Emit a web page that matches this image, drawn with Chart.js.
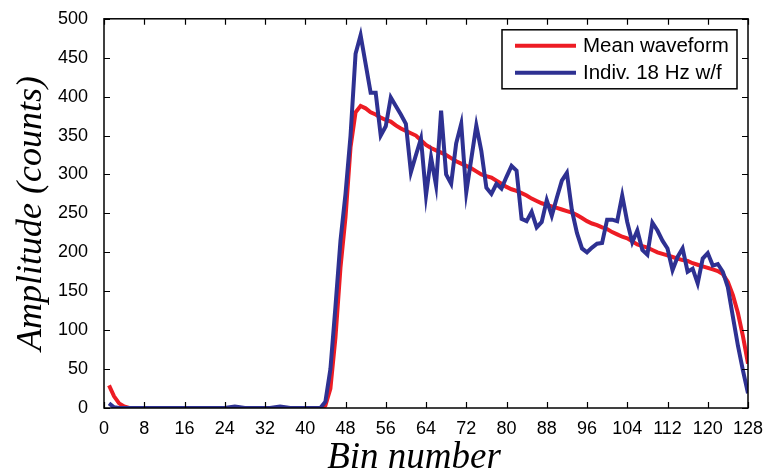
<!DOCTYPE html>
<html>
<head>
<meta charset="utf-8">
<script src="https://cdn.jsdelivr.net/npm/chart.js@4.4.1/dist/chart.umd.min.js"></script>
<style>
  html, body { margin: 0; padding: 0; background: #fff; }
  #wave { display: block; }
</style>
</head>
<body>
<canvas id="wave" width="768" height="473"></canvas>
<script>
// bin index 1..128
const bins = [];
for (let b = 1; b <= 128; b++) bins.push(b);

// averaged return (counts per bin)
const meanWave = [
  29, 15, 6, 2, 0, 0, 0, 0, 0, 0,
  0, 0, 0, 0, 0, 0, 0, 0, 0, 0,
  0, 0, 0, 0, 0, 0, 0, 0, 0, 0,
  0, 0, 0, 0, 0, 0, 0, 0, 0, 0,
  0, 0, 0, 3, 25, 90, 180, 245, 335, 380,
  388, 385, 380, 377, 373, 370, 368, 363, 359, 356,
  353, 350, 344, 338, 334, 331, 328, 325, 321, 317,
  314, 311, 308, 304, 300, 298, 296, 292, 288, 284,
  281, 279, 276, 273, 269, 266, 263, 261, 259, 257,
  255, 253, 251, 248, 244, 240, 237, 235, 232, 230,
  226, 223, 220, 218, 214, 210, 208, 206, 203, 200,
  198, 196, 194, 192, 190, 189, 186, 184, 182, 180,
  178, 176, 172, 162, 145, 122, 92, 57
];

// single 18 Hz waveform
const indivWave = [
  6, 1, 0, 0, 0, 0, 0, 0, 0, 0,
  0, 0, 0, 0, 0, 0, 0, 0, 0, 0,
  0, 0, 0, 0, 1, 2, 1, 0, 0, 0,
  0, 0, 0, 1, 2, 1, 0, 0, 0, 0,
  0, 0, 0, 8, 50, 130, 215, 275, 350, 455,
  479, 442, 405, 405, 350, 362, 399, 388, 377, 365,
  303, 325, 346, 273, 322, 286, 382, 300, 288, 340,
  365, 277, 320, 363, 330, 283, 275, 288, 282, 297,
  311, 305, 243, 240, 252, 232, 239, 267, 247, 270,
  292, 302, 254, 225, 205, 200, 206, 211, 212, 242,
  242, 240, 273, 239, 213, 228, 203, 197, 238, 228,
  215, 205, 177, 194, 205, 175, 179, 160, 192, 199,
  183, 185, 175, 155, 117, 80, 48, 19
];

const xTicks = { min: 0, max: 128, step: 8 };
const yTicks = { min: 0, max: 500, step: 50 };
const xLabel = 'Bin number';

const RED = '#ed1c24';
const BLUE = '#2e3192';

const toPoints = vals => bins.map((b, i) => ({ x: b, y: vals[i] }));

// box round the axes with inward ticks on all four sides
const axesBox = {
  id: 'axesBox',
  afterDatasetsDraw(chart) {
    const { ctx, chartArea: a, scales: { x, y } } = chart;
    const len = 6;
    ctx.save();
    ctx.strokeStyle = '#000';
    ctx.lineWidth = 1.5;
    ctx.strokeRect(a.left, a.top, a.right - a.left, a.bottom - a.top);
    ctx.beginPath();
    x.ticks.forEach(t => {
      const px = Math.round(x.getPixelForValue(t.value)) + 0.5;
      ctx.moveTo(px, a.bottom); ctx.lineTo(px, a.bottom - len);
      ctx.moveTo(px, a.top); ctx.lineTo(px, a.top + len);
    });
    y.ticks.forEach(t => {
      const py = Math.round(y.getPixelForValue(t.value)) + 0.5;
      ctx.moveTo(a.left, py); ctx.lineTo(a.left + len, py);
      ctx.moveTo(a.right, py); ctx.lineTo(a.right - len, py);
    });
    ctx.lineWidth = 1.2;
    ctx.stroke();
    ctx.restore();
  }
};

// x axis caption, sits a little left of centre
const xCaption = {
  id: 'xCaption',
  afterDraw(chart) {
    const { ctx, chartArea: a } = chart;
    ctx.save();
    ctx.font = 'italic 37px "Liberation Serif", "Times New Roman", serif';
    ctx.fillStyle = '#000';
    ctx.textAlign = 'center';
    ctx.textBaseline = 'alphabetic';
    ctx.fillText(xLabel, (a.left + a.right) / 2 - 12, 468);
    ctx.restore();
  }
};

// boxed legend in the upper right corner
const boxLegend = {
  id: 'boxLegend',
  afterDraw(chart) {
    const { ctx, chartArea: a } = chart;
    const w = 235, h = 59;
    const left = a.right - 11 - w, top = a.top + 11;
    ctx.save();
    ctx.fillStyle = '#fff';
    ctx.fillRect(left, top, w, h);
    ctx.strokeStyle = '#000';
    ctx.lineWidth = 1.5;
    ctx.strokeRect(left, top, w, h);
    ctx.font = '20.5px "Liberation Sans", Arial, sans-serif';
    ctx.textBaseline = 'middle';
    chart.data.datasets.forEach((ds, i) => {
      const yy = top + 16 + i * 27;
      ctx.strokeStyle = ds.borderColor;
      ctx.lineWidth = 4;
      ctx.beginPath();
      ctx.moveTo(left + 13, yy);
      ctx.lineTo(left + 74, yy);
      ctx.stroke();
      ctx.fillStyle = '#000';
      ctx.fillText(ds.label, left + 81, yy + 1);
    });
    ctx.restore();
  }
};

const tickFont = { family: '"Liberation Sans", Arial, sans-serif', size: 18 };
const titleFont = { family: '"Liberation Serif", "Times New Roman", serif', size: 36, style: 'italic', lineHeight: 1 };

new Chart(document.getElementById('wave'), {
  type: 'line',
  data: {
    datasets: [
      {
        label: 'Mean waveform',
        data: toPoints(meanWave),
        borderColor: RED,
        borderWidth: 4,
        pointRadius: 0,
        tension: 0,
        order: 2
      },
      {
        label: 'Indiv. 18 Hz w/f',
        data: toPoints(indivWave),
        borderColor: BLUE,
        borderWidth: 4,
        pointRadius: 0,
        tension: 0,
        order: 1
      }
    ]
  },
  options: {
    responsive: false,
    animation: false,
    layout: { padding: { left: 0, top: 18, right: 20, bottom: 0 } },
    plugins: {
      legend: { display: false },
      tooltip: { enabled: false }
    },
    scales: {
      x: {
        type: 'linear',
        min: xTicks.min,
        max: xTicks.max,
        grid: { display: false },
        border: { display: false },
        ticks: {
          stepSize: xTicks.step,
          color: '#000',
          font: tickFont,
          padding: 2,
          maxRotation: 0
        },
        afterFit(scale) { scale.height = 65; }
      },
      y: {
        type: 'linear',
        min: yTicks.min,
        max: yTicks.max,
        grid: { display: false },
        border: { display: false },
        ticks: {
          stepSize: yTicks.step,
          color: '#000',
          font: tickFont,
          padding: 8
        },
        title: {
          display: true,
          text: 'Amplitude (counts)',
          color: '#000',
          font: titleFont,
          padding: { top: 14, bottom: 0 }
        },
        afterFit(scale) { scale.width = 104; }
      }
    }
  },
  plugins: [axesBox, xCaption, boxLegend]
});
</script>
</body>
</html>
